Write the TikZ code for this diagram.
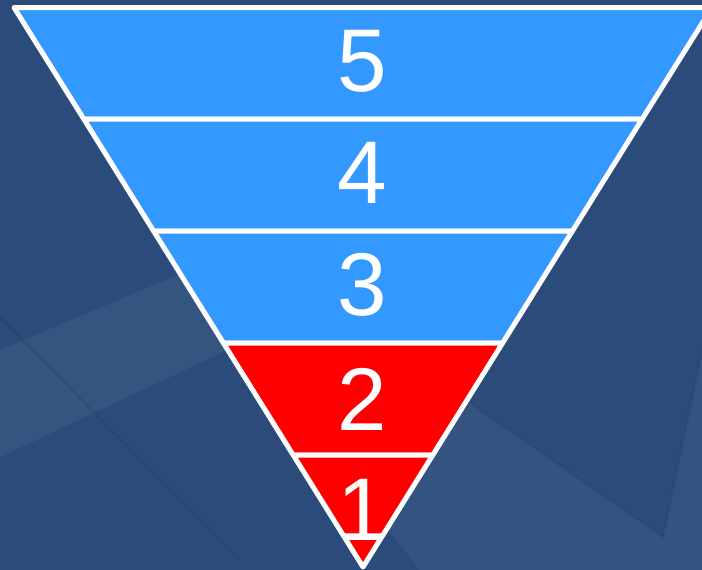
\documentclass[tikz,border=0pt]{standalone}
\usepackage{fontspec}
\setmainfont{Liberation Sans}
\definecolor{bgblue}{HTML}{2B4C7B}
\definecolor{bandblue}{HTML}{3399FF}
\definecolor{bandred}{HTML}{FF0000}
\tikzset{
  band/.style={draw=white, line width=5pt, line join=round},
  digit/.style={text=white, inner sep=0pt, font=\fontsize{89}{89}\selectfont},
  streak/.style={fill=white, opacity=0.05, draw=none}
}
\begin{document}
\begin{tikzpicture}[x=1pt,y=-1pt]
\useasboundingbox (0,0) rectangle (702,570);
\clip (0,0) rectangle (702,570);
\fill[bgblue] (0,0) rectangle (702,570);
% subtle background streaks
\fill[streak] (0,350) -- (173,277) -- (400,180) -- (400,300) -- (227,350) -- (0,457) -- cycle;
\fill[streak, opacity=0.04] (470,403) -- (663,537) -- (702,350) -- (702,570) -- (420,570) -- (380,520) -- cycle;
\draw[black, opacity=0.07, line width=3pt] (0,317) -- (240,560);
\draw[black, opacity=0.05, line width=3pt] (470,403) -- (663,537) -- (702,350);
% side points
\coordinate (L0) at (14,7.5);    \coordinate (R0) at (712,7.5);
\coordinate (L1) at (83.8,119); \coordinate (R1) at (642.2,119);
\coordinate (L2) at (153.6,231);\coordinate (R2) at (572.4,231);
\coordinate (L3) at (223.4,343);\coordinate (R3) at (502.6,343);
\coordinate (L4) at (293.2,455);\coordinate (R4) at (432.8,455);
\coordinate (A) at (363,567);
% bands
\filldraw[band, fill=bandblue] (L0) -- (R0) -- (R1) -- (L1) -- cycle;
\filldraw[band, fill=bandblue] (L1) -- (R1) -- (R2) -- (L2) -- cycle;
\filldraw[band, fill=bandblue] (L2) -- (R2) -- (R3) -- (L3) -- cycle;
\filldraw[band, fill=bandred] (L3) -- (R3) -- (R4) -- (L4) -- cycle;
\filldraw[band, fill=bandred] (L4) -- (R4) -- (A) -- cycle;
% labels
\node[digit] (n5) at (362,61) {5};
\node[digit] (n4) at (362,173) {4};
\node[digit] (n3) at (362,285) {3};
\node[digit] (n2) at (362,399) {2};
\node[digit] (n1) at (362,510) {1};
\end{tikzpicture}
\end{document}
